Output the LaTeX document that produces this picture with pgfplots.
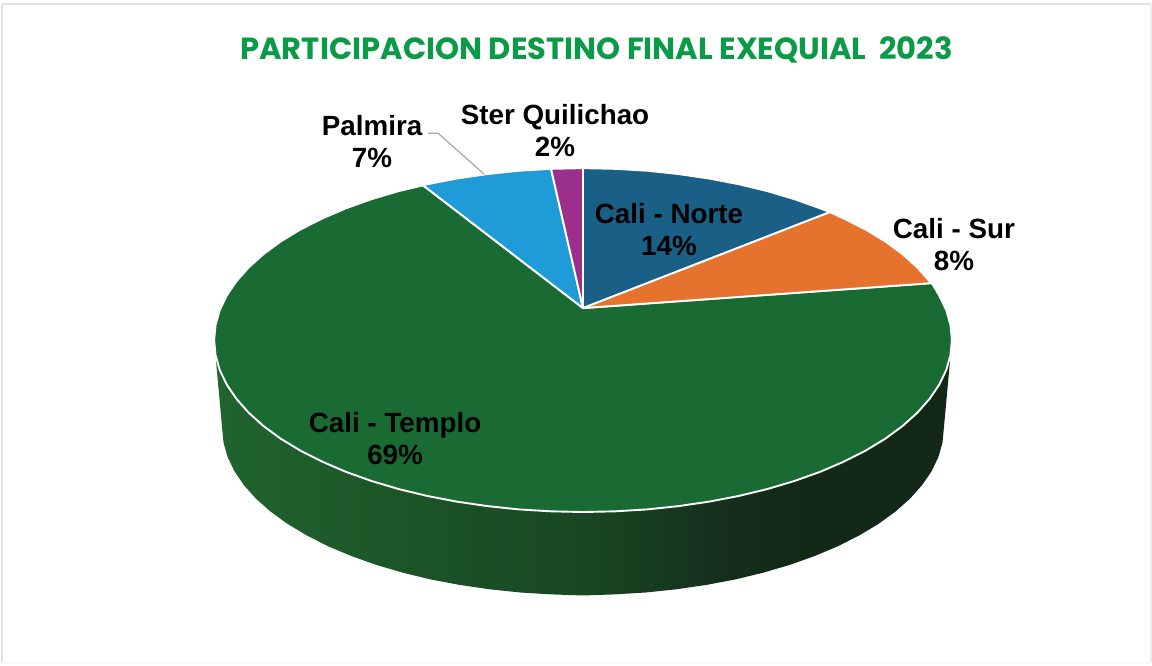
\documentclass[border=0pt]{standalone}
\usepackage{pgfplots}
\pgfplotsset{compat=1.18}
\usepackage{fontspec}
\setmainfont{Liberation Sans}
\newfontfamily\titlefont{Poppins}
\definecolor{norte}{HTML}{1A5F86}
\definecolor{sur}{HTML}{E5722D}
\definecolor{templo}{HTML}{196B33}
\definecolor{palmira}{HTML}{1F9BD7}
\definecolor{ster}{HTML}{9A2F8C}
\definecolor{titlegreen}{HTML}{0B9A47}
\pgfdeclarehorizontalshading{sidewall}{100bp}{
 rgb(0bp)=(0.125,0.392,0.184);
 rgb(25bp)=(0.125,0.392,0.184);
 rgb(40bp)=(0.106,0.322,0.149);
 rgb(50bp)=(0.098,0.278,0.137);
 rgb(60bp)=(0.082,0.180,0.106);
 rgb(65bp)=(0.078,0.157,0.094);
 rgb(100bp)=(0.078,0.157,0.094)}
\begin{document}
\begin{tikzpicture}
\begin{axis}[
  scale only axis, width=1152pt, height=665pt,
  xmin=0, xmax=1152, ymin=0, ymax=665, y dir=reverse,
  hide axis, clip=false, no markers,
  every axis plot/.append style={line join=round},
]
% frame
\addplot[draw=white, fill=white] coordinates {(0,0)(1152,0)(1152,665)(0,665)(0,0)};
\addplot[draw=black!11, line width=2pt] coordinates {(1.5,663)(1.5,4)(1151,4)};
\addplot[draw=black!7, line width=1.5pt] coordinates {(1151,4)(1151,663)};
\addplot[draw=black!3, line width=1.5pt] coordinates {(1.5,663)(1151,663)};
% side wall of the pie
\addplot[draw=none, shading=sidewall] coordinates {
 (952,340)(944,428)(942.6,442.6)(938.5,457)(931.7,471.2)(922.2,485.1)(910.2,498.6)(895.6,511.5)
 (878.7,523.8)(859.5,535.3)(838.3,546.1)(815,555.9)(790.1,564.8)(763.5,572.6)(735.6,579.4)
 (706.5,584.9)(676.4,589.3)(645.7,592.5)(614.5,594.4)(583,595.5)(551.5,594.4)(520.3,592.5)
 (489.6,589.3)(459.5,584.9)(430.4,579.4)(402.5,572.6)(375.9,564.8)(351,555.9)(327.7,546.1)
 (306.5,535.3)(287.3,523.8)(270.4,511.5)(255.8,498.6)(243.8,485.1)(234.3,471.2)(227.5,457)
 (223.4,442.6)(222,428)(214,340)(952,340)};
% Cali - Templo 69
\addplot[fill=templo, draw=white, line width=1.9pt] coordinates {
 (583,308)(932,283)(939.4,295.5)(946.4,310.1)(950.6,325)(952,340)(950.6,355)(946.4,369.9)
 (939.4,384.5)(929.7,398.8)(917.4,412.7)(902.6,426)(885.3,438.7)(865.7,450.6)(843.9,461.6)
 (820.2,471.8)(794.7,480.9)(767.5,489)(738.9,495.9)(709.2,501.6)(678.5,506.1)(647.1,509.4)
 (615.2,511.3)(583,512)(550.8,511.3)(518.9,509.4)(487.5,506.1)(456.8,501.6)(427.1,495.9)
 (398.5,489)(371.3,480.9)(345.8,471.8)(322.1,461.6)(300.3,450.6)(280.7,438.7)(263.4,426)
 (248.6,412.7)(236.3,398.8)(226.6,384.5)(219.6,369.9)(215.4,355)(214,340)(215.4,325)
 (219.6,310.1)(226.6,295.5)(236.3,281.2)(248.6,267.3)(263.4,254)(280.7,241.3)(300.3,229.4)
 (322.1,218.4)(345.8,208.2)(371.3,199.1)(398.5,191)(423,185.2)(583,308)};
% Cali - Norte 14
\addplot[fill=norte, draw=white, line width=1.9pt] coordinates {
 (583,308)(583,168)(615.2,168.7)(647.1,170.6)(678.5,173.9)(709.2,178.4)(738.9,184.1)
 (767.5,191)(794.7,199.1)(820.2,208.2)(830,212)(583,308)};
% Cali - Sur 8
\addplot[fill=sur, draw=white, line width=1.9pt] coordinates {
 (583,308)(830,212)(843.9,218.4)(865.7,229.4)(885.3,241.3)(902.6,254)(917.4,267.3)
 (929.7,281.2)(932,283)(583,308)};
% Palmira 7
\addplot[fill=palmira, draw=white, line width=1.9pt] coordinates {
 (583,308)(423,185.2)(427.1,184.1)(456.8,178.4)(487.5,173.9)(518.9,170.6)(551,168.7)(583,308)};
% Ster Quilichao 2
\addplot[fill=ster, draw=white, line width=1.9pt] coordinates {
 (583,308)(551,168.7)(583,168)(583,308)};
% leader
\addplot[draw=black!35, line width=1.2pt] coordinates {(428,133)(438,133)(484,174)};
% labels
\node[font=\titlefont\bfseries\fontsize{30.6}{36}\selectfont, text=titlegreen, inner sep=0pt] at (axis cs:596.5,50) {PARTICIPACION DESTINO FINAL EXEQUIAL\ \ 2023};
\tikzset{lab/.style={font=\bfseries\fontsize{27.8}{32}\selectfont, align=center, inner sep=0pt, text=black}}
\node[lab] at (axis cs:669,229) {Cali - Norte\\14\%};
\node[lab] at (axis cs:954,244) {Cali - Sur\\8\%};
\node[lab] at (axis cs:395,439) {Cali - Templo\\69\%};
\node[lab] at (axis cs:372,141) {Palmira\\7\%};
\node[lab] at (axis cs:555,130) {Ster Quilichao\\2\%};
\end{axis}
\end{tikzpicture}
\end{document}
